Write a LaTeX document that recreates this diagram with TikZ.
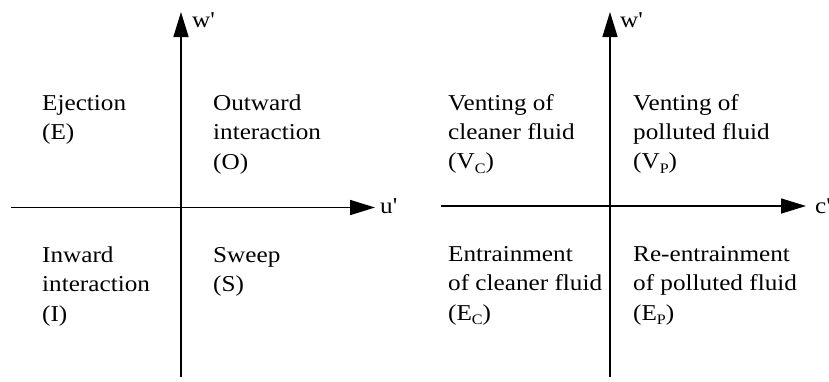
\documentclass[tikz,border=0pt]{standalone}
\usepackage{fontspec}
\setmainfont{Liberation Serif}[FakeStretch=1.11, Ligatures=TeXOff]
\usetikzlibrary{arrows.meta}
% lowered small subscript letter, as in (V_C)
\newcommand\lowsub[1]{\raisebox{-4.5pt}{\fontsize{14.5}{14.5}\selectfont #1}}
% left-aligned block whose reference point is the first baseline
\newcommand\lines[1]{\begin{tabular}[t]{@{}l@{}}#1\end{tabular}}
\begin{document}
\begin{tikzpicture}[x=1pt, y=-1pt,
  axis/.style={line width=1.6pt, draw=black,
    -{Triangle[length=25pt, width=15pt]}},
  quad/.style={anchor=base west, inner sep=0pt,
    font=\fontsize{22.7}{29.3}\selectfont},
  axlabel/.style={anchor=base west, inner sep=0pt,
    font=\fontsize{22.7}{29.3}\selectfont}]
\useasboundingbox (0,0) rectangle (829,381);

% ---- left panel: u'-w' quadrants ----
\coordinate (L-xs) at (11,207.5);
\coordinate (L-xe) at (375,207.5);
\coordinate (L-ys) at (181,377);
\coordinate (L-ye) at (181,12);
\draw[axis] (L-xs) -- (L-xe);
\draw[axis] (L-ys) -- (L-ye);
\node[axlabel] (L-w) at (192,27) {w'};
\node[axlabel] (L-u) at (380,213) {u'};

\node[quad] (ej) at (42,110.5) {\lines{Ejection\\(E)}};
\node[quad] (ou) at (213,110.5) {\lines{Outward\\interaction\\(O)}};
\node[quad] (in) at (42,262.5) {\lines{Inward\\interaction\\(I)}};
\node[quad] (sw) at (213,262.5) {\lines{Sweep\\(S)}};

% ---- right panel: c'-w' quadrants ----
\coordinate (R-xs) at (441,206);
\coordinate (R-xe) at (806,206);
\coordinate (R-ys) at (610,377);
\coordinate (R-ye) at (610,12);
\draw[axis] (R-xs) -- (R-xe);
\draw[axis] (R-ys) -- (R-ye);
\node[axlabel] (R-w) at (620,27) {w'};
\node[axlabel] (R-c) at (815,213) {c'};

\node[quad] (vc) at (448,110) {\lines{Venting of\\cleaner fluid\\(V\lowsub{C})}};
\node[quad] (vp) at (633,110) {\lines{Venting of\\polluted fluid\\(V\lowsub{P})}};
\node[quad] (ec) at (448,261.5) {\lines{Entrainment\\of cleaner fluid\\(E\lowsub{C})}};
\node[quad] (ep) at (633,261.5) {\lines{Re-entrainment\\of polluted fluid\\(E\lowsub{P})}};
\end{tikzpicture}
\end{document}
